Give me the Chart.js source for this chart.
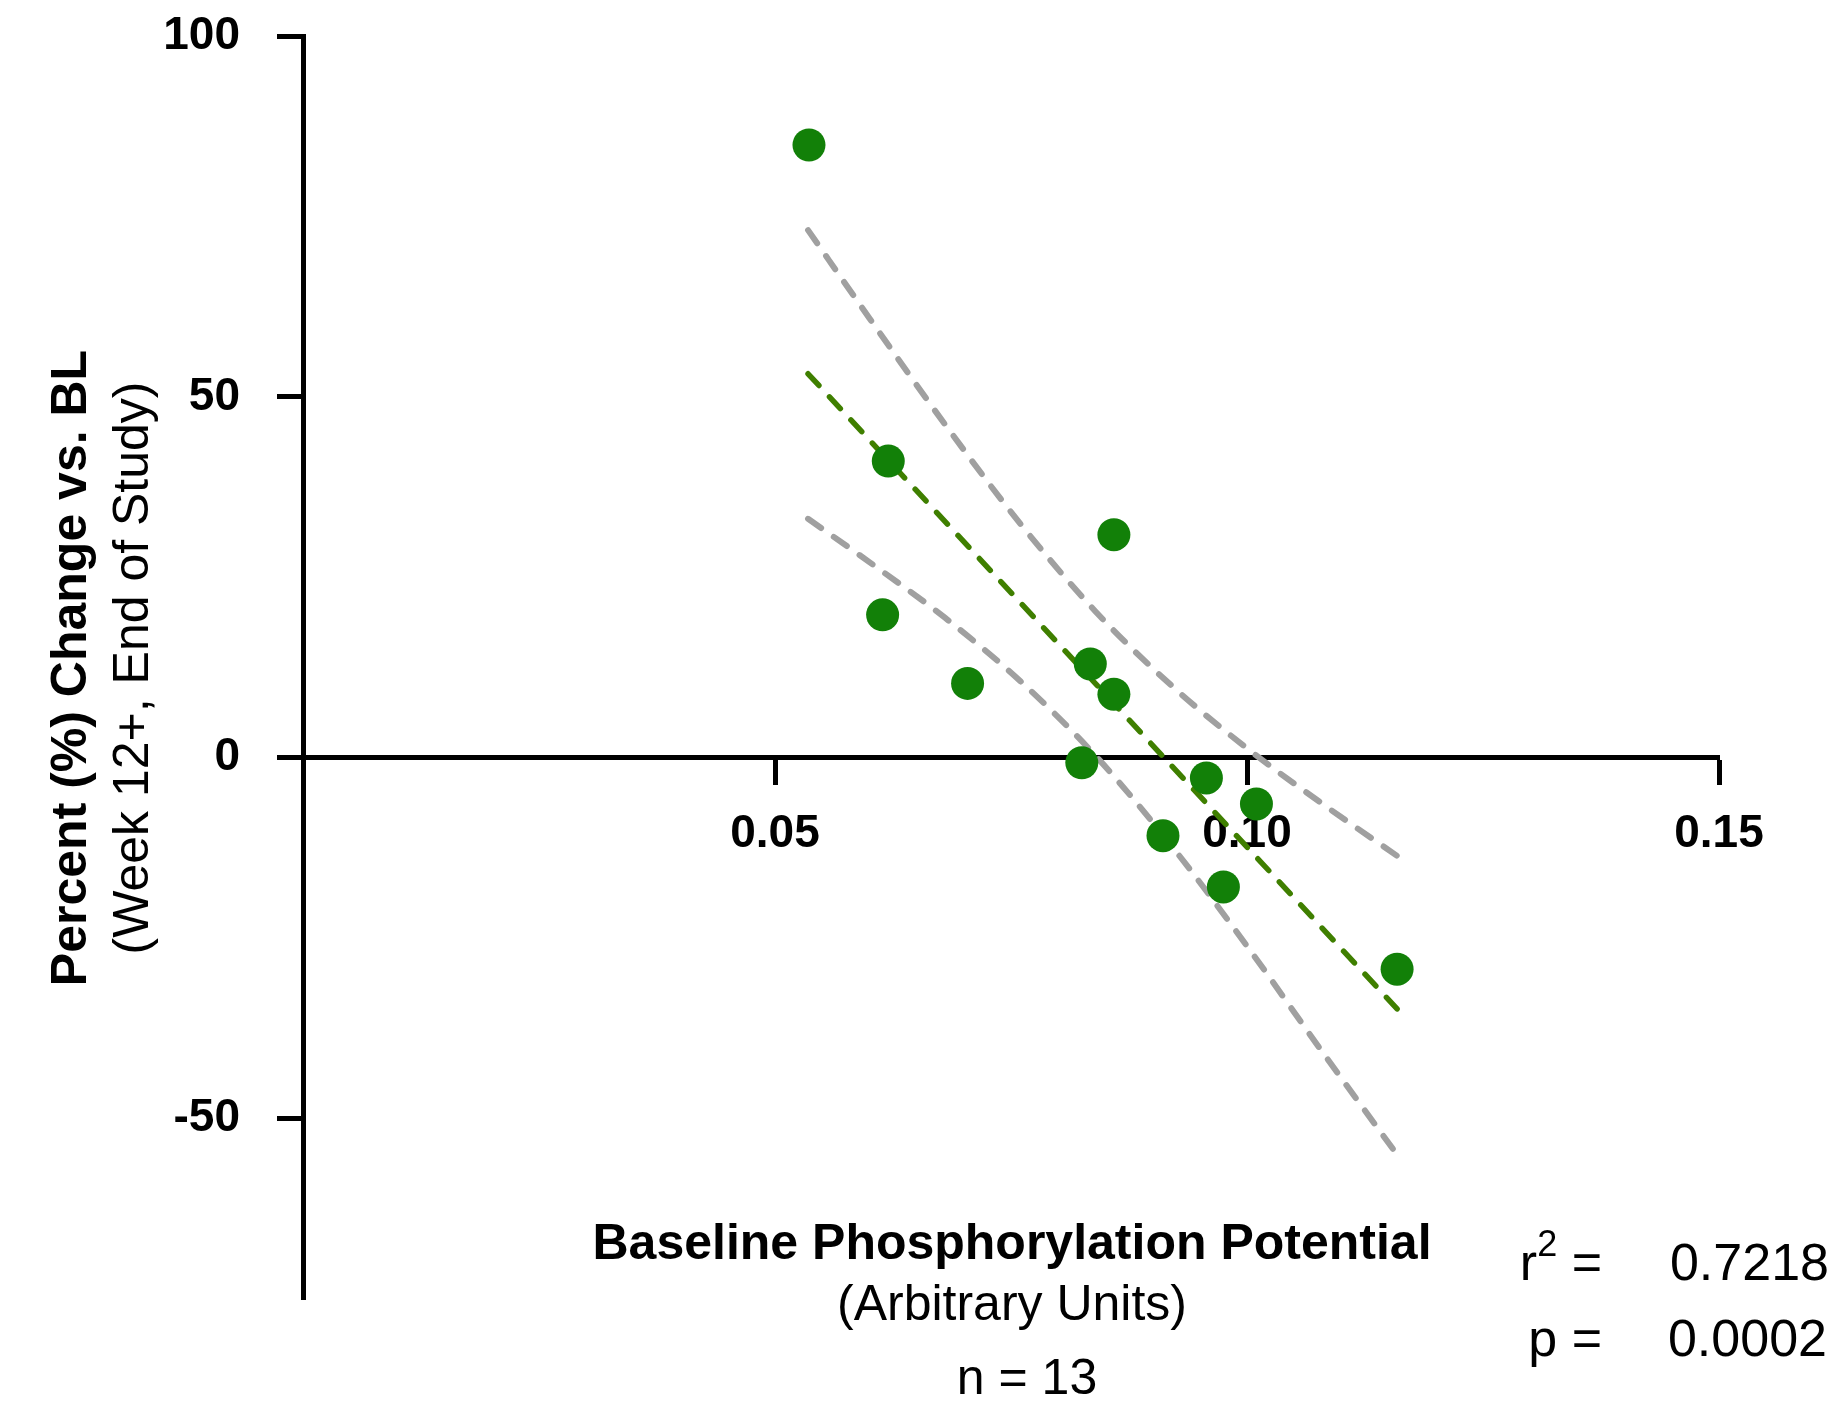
<!DOCTYPE html>
<html>
<head>
<meta charset="utf-8">
<title>Phosphorylation potential vs change</title>
<script src="https://cdn.jsdelivr.net/npm/chart.js@4.4.1/dist/chart.umd.min.js"></script>
<style>
  html, body { margin: 0; padding: 0; background: #fff; }
  #wrap { width: 1845px; height: 1404px; }
</style>
</head>
<body>
<div id="wrap"><canvas id="scatter" width="1845" height="1404"></canvas></div>
<script>
// ─── data ───
const phosX    = [0.0536, 0.0620, 0.0614, 0.0704, 0.0859, 0.0834, 0.0859, 0.0825, 0.0957, 0.1010, 0.0911, 0.0975, 0.1159];
const pctChange = [84.9, 41.1, 19.8, 10.3, 30.9, 13.0, 8.8, -0.7, -2.8, -6.4, -10.8, -17.9, -29.3];

const fitX = [0.0535, 0.1159];
const fitY = [53.2, -34.8];

const bandX     = [0.0535, 0.0600, 0.0680, 0.0760, 0.0840, 0.0920, 0.1000, 0.1080, 0.1159];
const bandUpper = [73.1, 60.9, 46.2, 32.4, 20.2, 10.0, 1.3, -6.4, -13.6];
const bandLower = [33.1, 27.1, 19.4, 10.6, 0.2, -12.2, -26.1, -40.8, -55.0];

const xTicks = [0.05, 0.10, 0.15];
const yTicks = [-50, 0, 50, 100];

const FONT = "'Liberation Sans', Arial, Helvetica, sans-serif";
Chart.defaults.font.family = FONT;
Chart.defaults.color = '#000';

const pairs = (xs, ys) => xs.map((x, i) => ({ x: x, y: ys[i] }));

// ─── titles + stats drawn on top ───
const textPlugin = {
    id: 'figText',
    afterDraw(chart) {
        const c = chart.ctx;
        c.save();
        c.fillStyle = '#000';
        c.textBaseline = 'alphabetic';

        // y title (rotated)
        c.save();
        c.translate(86, 668);
        c.rotate(-Math.PI / 2);
        c.textAlign = 'center';
        c.font = 'bold 50px ' + FONT;
        c.fillText('Percent (%) Change vs. BL', 0, 0);
        c.restore();
        c.save();
        c.translate(148, 668);
        c.rotate(-Math.PI / 2);
        c.textAlign = 'center';
        c.font = '50px ' + FONT;
        c.fillText('(Week 12+, End of Study)', 0, 0);
        c.restore();

        // x title
        c.textAlign = 'center';
        c.font = 'bold 50px ' + FONT;
        c.fillText('Baseline Phosphorylation Potential', 1012, 1259);
        c.font = '50px ' + FONT;
        c.fillText('(Arbitrary Units)', 1012, 1320);
        c.fillText('n = 13', 1027, 1394);

        // stats
        c.font = '52px ' + FONT;
        c.textAlign = 'right';
        c.fillText('0.7218', 1829, 1280);
        c.fillText('0.0002', 1827, 1356);
        c.fillText('p =', 1602, 1356);
        // r² =
        const eqW = c.measureText(' =').width;
        c.fillText(' =', 1602, 1280);
        c.font = '36px ' + FONT;
        const supW = c.measureText('2').width;
        c.fillText('2', 1602 - eqW, 1256);
        c.font = '52px ' + FONT;
        c.fillText('r', 1602 - eqW - supW, 1280);
        c.restore();
    }
};

new Chart(document.getElementById('scatter'), {
    type: 'scatter',
    data: {
        datasets: [
            {
                label: 'Subjects',
                data: pairs(phosX, pctChange),
                backgroundColor: '#128008',
                borderWidth: 0,
                pointRadius: 16.5,
                pointHoverRadius: 16.5,
            },
            {
                label: 'Fit',
                data: pairs(fitX, fitY),
                showLine: true,
                borderColor: '#3f7f00',
                borderWidth: 5.5,
                borderDash: [16, 15.5],
                borderCapStyle: 'round',
                pointRadius: 0,
            },
            {
                label: 'Upper 95% CI',
                data: pairs(bandX, bandUpper),
                showLine: true,
                cubicInterpolationMode: 'monotone',
                borderColor: '#a0a0a0',
                borderWidth: 6,
                borderDash: [16, 15.5],
                borderCapStyle: 'round',
                pointRadius: 0,
            },
            {
                label: 'Lower 95% CI',
                data: pairs(bandX, bandLower),
                showLine: true,
                cubicInterpolationMode: 'monotone',
                borderColor: '#a0a0a0',
                borderWidth: 6,
                borderDash: [16, 15.5],
                borderCapStyle: 'round',
                pointRadius: 0,
            },
        ]
    },
    options: {
        responsive: false,
        animation: false,
        layout: { padding: { left: 0, top: 36, right: 126, bottom: 105 } },
        plugins: {
            legend: { display: false },
            tooltip: { enabled: false },
        },
        scales: {
            x: {
                type: 'linear',
                min: 0,
                max: 0.15,
                position: { y: 0 },
                afterBuildTicks: (axis) => { axis.ticks = xTicks.map(v => ({ value: v })); },
                afterFit: (axis) => { axis.height = 0; },
                grid: {
                    drawOnChartArea: false,
                    drawTicks: true,
                    tickLength: 25,
                    tickWidth: 5,
                    tickColor: '#000',
                },
                border: { display: true, color: '#000', width: 5 },
                ticks: {
                    padding: 24,
                    color: '#000',
                    font: { size: 46, weight: 'bold' },
                    maxRotation: 0,
                    callback: (v) => Number(v).toFixed(2),
                },
            },
            y: {
                type: 'linear',
                min: -75,
                max: 100,
                position: 'left',
                afterBuildTicks: (axis) => { axis.ticks = yTicks.map(v => ({ value: v })); },
                afterFit: (axis) => {
                    axis.width = 303;
                    axis.paddingTop = 0;
                    axis.paddingBottom = 0;
                },
                grid: {
                    drawOnChartArea: false,
                    drawTicks: true,
                    tickLength: 26,
                    tickWidth: 5,
                    tickColor: '#000',
                },
                border: { display: true, color: '#000', width: 5 },
                ticks: {
                    padding: 37,
                    color: '#000',
                    font: { size: 46, weight: 'bold' },
                    callback: (v) => String(v),
                },
            },
        },
    },
    plugins: [textPlugin],
});
</script>
</body>
</html>
